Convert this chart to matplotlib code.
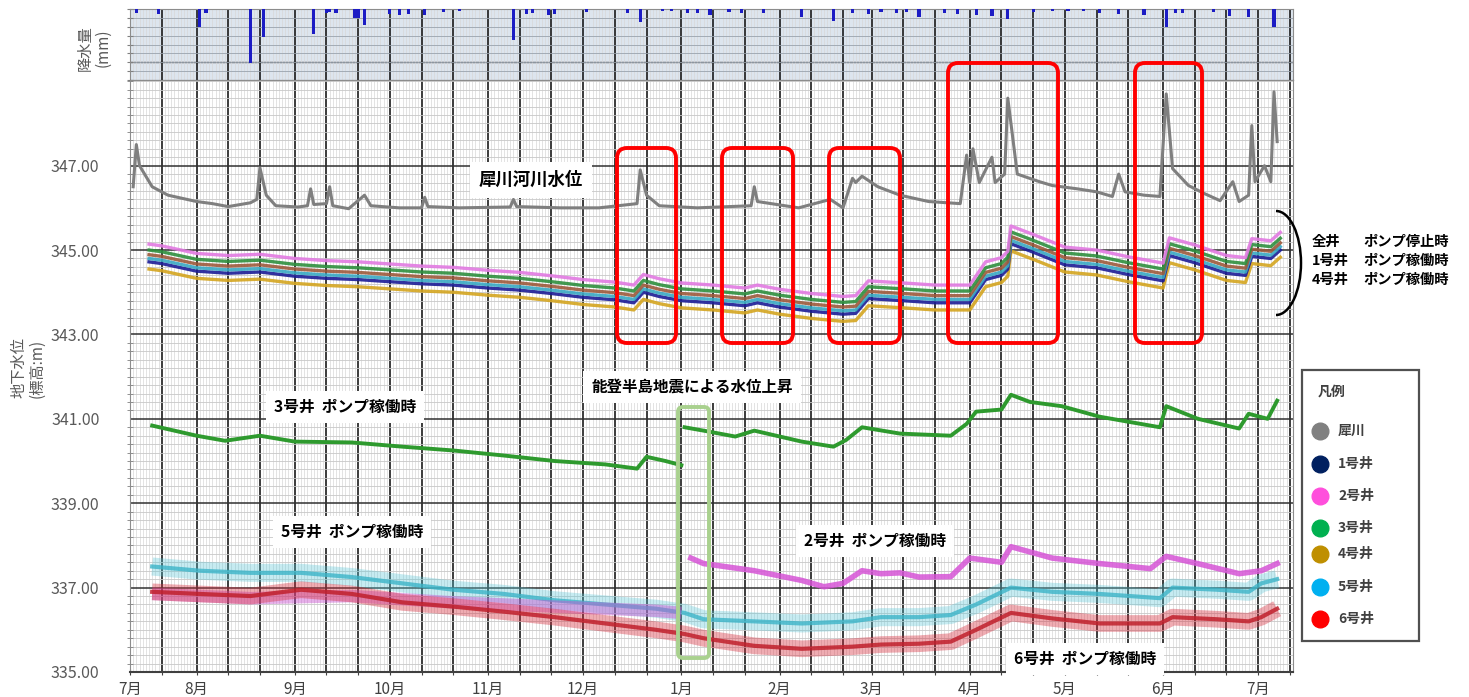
import numpy as np
import pandas as pd
import matplotlib
matplotlib.use('Agg')
import matplotlib.pyplot as plt
import matplotlib.dates as mdates
from matplotlib.ticker import FuncFormatter, MultipleLocator
from matplotlib.patches import FancyBboxPatch, Arc
from matplotlib.lines import Line2D
from matplotlib.transforms import IdentityTransform

plt.rcParams['font.family'] = ['Noto Sans CJK JP', 'DejaVu Sans']

W, H = 1469, 697

# ---- rainfall (mm/day) ----
rain_dates = ['2023-07-13', '2023-07-20', '2023-08-02', '2023-08-04', '2023-08-18', '2023-08-22',
              '2023-09-07', '2023-09-11', '2023-09-12', '2023-09-14', '2023-09-20', '2023-09-21',
              '2023-09-23', '2023-10-01', '2023-10-04', '2023-10-07', '2023-10-12', '2023-10-18',
              '2023-10-23', '2023-11-09', '2023-11-13', '2023-11-15', '2023-11-20', '2023-11-22',
              '2023-12-02', '2023-12-15', '2023-12-19', '2023-12-26', '2023-12-29', '2024-01-03',
              '2024-01-06', '2024-01-10', '2024-01-16', '2024-01-20', '2024-01-27', '2024-02-08',
              '2024-02-18', '2024-02-24', '2024-02-29', '2024-03-04', '2024-03-09', '2024-03-12',
              '2024-03-16', '2024-03-24', '2024-03-28', '2024-04-03', '2024-04-08', '2024-04-13',
              '2024-04-21', '2024-04-27', '2024-05-02', '2024-05-07', '2024-05-12', '2024-05-18',
              '2024-05-26', '2024-06-02', '2024-06-05', '2024-06-07', '2024-06-17', '2024-06-22',
              '2024-06-28', '2024-07-06']
rain_mm = [4.5, 6, 20, 4.5, 61, 31,
           28, 4.5, 3.4, 4.5, 10, 10,
           18, 6, 7, 6, 7, 3.4,
           2.2, 35, 6, 4.5, 7, 6,
           3.4, 4.5, 15, 2.2, 2.2, 4.5,
           4.5, 7, 3.4, 4.5, 4.5, 9,
           13, 4.5, 6, 3.4, 4.5, 3.4,
           9, 4.5, 6, 7, 8, 11,
           3.4, 2.2, 2.2, 2.2, 4.5, 6,
           7, 20, 4.5, 4.5, 3.4, 8,
           9, 20]

# ---- river level (犀川) ----
river_dates = ['2023-07-12', '2023-07-13', '2023-07-14', '2023-07-18', '2023-07-23', '2023-08-01',
               '2023-08-06', '2023-08-11', '2023-08-18', '2023-08-20', '2023-08-21', '2023-08-23',
               '2023-08-26', '2023-09-02', '2023-09-05', '2023-09-06', '2023-09-07', '2023-09-11',
               '2023-09-12', '2023-09-13', '2023-09-18', '2023-09-23', '2023-09-25', '2023-10-04',
               '2023-10-11', '2023-10-12', '2023-10-13', '2023-10-23', '2023-11-08', '2023-11-09',
               '2023-11-10', '2023-11-24', '2023-12-06', '2023-12-18', '2023-12-19', '2023-12-21',
               '2023-12-25', '2024-01-06', '2024-01-23', '2024-01-24', '2024-01-25', '2024-02-07',
               '2024-02-17', '2024-02-21', '2024-02-24', '2024-02-25', '2024-02-27', '2024-03-03',
               '2024-03-10', '2024-03-19', '2024-03-29', '2024-03-31', '2024-04-01', '2024-04-02',
               '2024-04-04', '2024-04-08', '2024-04-09', '2024-04-12', '2024-04-13', '2024-04-16',
               '2024-04-23', '2024-04-27', '2024-05-05', '2024-05-11', '2024-05-16', '2024-05-18',
               '2024-05-20', '2024-05-26', '2024-05-31', '2024-06-02', '2024-06-04', '2024-06-09',
               '2024-06-14', '2024-06-19', '2024-06-23', '2024-06-25', '2024-06-28', '2024-06-29',
               '2024-06-30', '2024-07-03', '2024-07-05', '2024-07-06', '2024-07-07']
river_level = [346.5, 347.5, 347.0, 346.5, 346.3, 346.15,
               346.1, 346.03, 346.12, 346.2, 346.95, 346.3,
               346.05, 346.02, 346.05, 346.45, 346.08, 346.1,
               346.5, 346.05, 345.98, 346.3, 346.05, 346.0,
               346.0, 346.25, 346.03, 346.0, 346.02, 346.2,
               346.03, 346.0, 346.0, 346.1, 346.9, 346.3,
               346.05, 346.0, 346.05, 346.5, 346.15, 346.0,
               346.2, 346.0, 346.7, 346.6, 346.75, 346.5,
               346.3, 346.15, 346.1, 347.25, 346.6, 347.4,
               346.6, 347.2, 346.6, 346.8, 348.6, 346.8,
               346.62, 346.53, 346.45, 346.38, 346.27, 346.8,
               346.38, 346.3, 346.27, 348.7, 346.93, 346.53,
               346.34, 346.17, 346.62, 346.15, 346.3, 347.95,
               346.62, 347.0, 346.62, 348.75, 347.57]

# ---- all wells while pumps are stopped (upper bundle) ----
bundle_dates = ['2023-07-17', '2023-07-21', '2023-08-01', '2023-08-11', '2023-08-21', '2023-09-01',
                '2023-09-11', '2023-09-21', '2023-10-01', '2023-10-11', '2023-10-21', '2023-11-01',
                '2023-11-11', '2023-11-21', '2023-12-01', '2023-12-11', '2023-12-17', '2023-12-20',
                '2023-12-25', '2024-01-01', '2024-01-11', '2024-01-21', '2024-01-25', '2024-02-01',
                '2024-02-11', '2024-02-21', '2024-02-25', '2024-02-29', '2024-03-11', '2024-03-21',
                '2024-04-01', '2024-04-06', '2024-04-11', '2024-04-13', '2024-04-14', '2024-04-21',
                '2024-05-01', '2024-05-11', '2024-05-21', '2024-06-01', '2024-06-03', '2024-06-11',
                '2024-06-21', '2024-06-27', '2024-06-29', '2024-07-05', '2024-07-08']
well2_stop = [345.14, 345.10, 344.92, 344.87, 344.90, 344.80, 344.75, 344.72, 344.67, 344.62, 344.59,
              344.52, 344.47, 344.39, 344.30, 344.24, 344.17, 344.42, 344.32, 344.22, 344.17, 344.10,
              344.17, 344.07, 343.97, 343.90, 343.92, 344.27, 344.22, 344.17, 344.17, 344.72, 344.82,
              344.97, 345.57, 345.37, 345.07, 345.00, 344.84, 344.69, 345.29, 345.12, 344.87, 344.82,
              345.27, 345.22, 345.42]
well3_stop = [345.00, 344.96, 344.78, 344.73, 344.76, 344.66, 344.61, 344.58, 344.53, 344.48, 344.45,
              344.38, 344.33, 344.25, 344.16, 344.10, 344.03, 344.28, 344.18, 344.08, 344.03, 343.96,
              344.03, 343.93, 343.83, 343.76, 343.78, 344.13, 344.08, 344.03, 344.03, 344.58, 344.68,
              344.83, 345.43, 345.23, 344.93, 344.86, 344.70, 344.55, 345.15, 344.98, 344.73, 344.68,
              345.13, 345.08, 345.28]
well6_stop = [344.89, 344.85, 344.67, 344.62, 344.65, 344.55, 344.50, 344.47, 344.42, 344.37, 344.34,
              344.27, 344.22, 344.14, 344.05, 343.99, 343.92, 344.17, 344.07, 343.97, 343.92, 343.85,
              343.92, 343.82, 343.72, 343.65, 343.67, 344.02, 343.97, 343.92, 343.92, 344.47, 344.57,
              344.72, 345.32, 345.12, 344.82, 344.75, 344.59, 344.44, 345.04, 344.87, 344.62, 344.57,
              345.02, 344.97, 345.17]
well5_stop = [344.80, 344.76, 344.58, 344.53, 344.56, 344.46, 344.41, 344.38, 344.33, 344.28, 344.25,
              344.18, 344.13, 344.05, 343.96, 343.90, 343.83, 344.08, 343.98, 343.88, 343.83, 343.76,
              343.83, 343.73, 343.63, 343.56, 343.58, 343.93, 343.88, 343.83, 343.83, 344.38, 344.48,
              344.63, 345.23, 345.03, 344.73, 344.66, 344.50, 344.35, 344.95, 344.78, 344.53, 344.48,
              344.93, 344.88, 345.08]
well1 = [344.72, 344.68, 344.50, 344.45, 344.48, 344.38, 344.33, 344.30, 344.25, 344.20, 344.17,
         344.10, 344.05, 343.97, 343.88, 343.82, 343.75, 344.00, 343.90, 343.80, 343.75, 343.68,
         343.75, 343.65, 343.55, 343.48, 343.50, 343.85, 343.80, 343.75, 343.75, 344.30, 344.40,
         344.55, 345.15, 344.95, 344.65, 344.58, 344.42, 344.27, 344.87, 344.70, 344.45, 344.40,
         344.85, 344.80, 345.00]
well4 = [344.55, 344.51, 344.33, 344.28, 344.31, 344.21, 344.16, 344.13, 344.08, 344.03, 344.00,
         343.93, 343.88, 343.80, 343.71, 343.65, 343.58, 343.83, 343.73, 343.63, 343.58, 343.51,
         343.58, 343.48, 343.38, 343.31, 343.33, 343.68, 343.63, 343.58, 343.58, 344.13, 344.23,
         344.38, 344.98, 344.78, 344.48, 344.41, 344.25, 344.10, 344.70, 344.53, 344.28, 344.23,
         344.68, 344.63, 344.83]

# ---- 3号井 pumping (jump after the Noto earthquake) ----
well3_pre_dates = ['2023-07-18', '2023-08-01', '2023-08-10', '2023-08-21', '2023-09-01', '2023-09-19',
                   '2023-10-05', '2023-10-21', '2023-11-06', '2023-11-22', '2023-12-08', '2023-12-18',
                   '2023-12-21', '2023-12-27', '2024-01-01']
well3_pre = [340.84, 340.60, 340.48, 340.60, 340.46, 340.44,
             340.34, 340.25, 340.13, 340.00, 339.92, 339.82,
             340.10, 340.00, 339.90]
well3_post_dates = ['2024-01-02', '2024-01-08', '2024-01-18', '2024-01-24', '2024-02-08', '2024-02-18',
                    '2024-02-22', '2024-02-27', '2024-03-10', '2024-03-26', '2024-03-31', '2024-04-03',
                    '2024-04-11', '2024-04-14', '2024-04-20', '2024-04-30', '2024-05-12', '2024-05-31',
                    '2024-06-02', '2024-06-12', '2024-06-25', '2024-06-28', '2024-07-04', '2024-07-07']
well3_post = [340.80, 340.72, 340.58, 340.72, 340.46, 340.34,
              340.50, 340.80, 340.65, 340.60, 340.88, 341.17,
              341.22, 341.57, 341.40, 341.30, 341.05, 340.80,
              341.30, 341.00, 340.77, 341.12, 341.00, 341.43]

# ---- 5号井 / 6号井 / 2号井 pumping ----
low_dates = ['2023-07-18', '2023-08-02', '2023-08-18', '2023-09-03', '2023-09-19', '2023-10-05',
             '2023-10-21', '2023-11-06', '2023-11-22', '2023-12-08', '2023-12-24', '2024-01-02',
             '2024-01-08', '2024-01-24', '2024-02-08', '2024-02-24', '2024-03-04', '2024-03-16',
             '2024-03-26', '2024-04-03', '2024-04-14', '2024-04-27', '2024-05-12', '2024-05-31',
             '2024-06-04', '2024-06-18', '2024-06-28', '2024-07-02', '2024-07-07']
well5 = [337.50, 337.40, 337.35, 337.35, 337.25, 337.10,
         336.95, 336.85, 336.70, 336.60, 336.50, 336.40,
         336.25, 336.20, 336.15, 336.20, 336.30, 336.30,
         336.35, 336.60, 337.00, 336.90, 336.85, 336.75,
         337.00, 336.95, 336.90, 337.10, 337.20]
well6 = [336.90, 336.85, 336.80, 336.95, 336.85, 336.65,
         336.55, 336.43, 336.30, 336.15, 336.00, 335.90,
         335.80, 335.62, 335.55, 335.60, 335.65, 335.67,
         335.72, 336.00, 336.40, 336.27, 336.15, 336.15,
         336.30, 336.25, 336.20, 336.30, 336.50]
well2_pre_dates = ['2023-07-18', '2023-08-18', '2023-09-19', '2023-10-21', '2023-11-22', '2023-12-24',
                   '2024-01-01']
well2_pre = [336.85, 336.75, 336.80, 336.65, 336.55, 336.45, 336.40]
well2_post_dates = ['2024-01-04', '2024-01-08', '2024-01-24', '2024-02-08', '2024-02-15', '2024-02-21',
                    '2024-02-27', '2024-03-04', '2024-03-10', '2024-03-16', '2024-03-26', '2024-04-01',
                    '2024-04-11', '2024-04-14', '2024-04-27', '2024-05-12', '2024-05-28', '2024-06-02',
                    '2024-06-13', '2024-06-25', '2024-07-02', '2024-07-07']
well2_post = [337.70, 337.57, 337.40, 337.17, 337.02, 337.10,
              337.40, 337.33, 337.35, 337.25, 337.26, 337.70,
              337.60, 337.97, 337.70, 337.57, 337.45, 337.74,
              337.55, 337.33, 337.40, 337.57]

y_ticks = [335, 337, 339, 341, 343, 345, 347]
legend_names = ['犀川', '1号井', '2号井', '3号井', '4号井', '5号井', '6号井']
legend_colors = ['#808080', '#002060', '#ff4fdc', '#00b050', '#bf8f00', '#00b0f0', '#ff0000']

d = pd.to_datetime
x0, x1 = d('2023-07-11'), d('2024-07-12')


def px(x, y):
    # figure pixel position (origin top-left) -> display coords
    return x, H - y


fig = plt.figure(figsize=(W / 100, H / 100), dpi=100)
ax_r = fig.add_axes([130 / W, 1 - 80 / H, 1163 / W, 71 / H])
ax = fig.add_axes([130 / W, 1 - 672 / H, 1163 / W, 592 / H])

for a in (ax_r, ax):
    a.set_xlim(x0, x1)
    a.xaxis.set_major_locator(mdates.DayLocator(bymonthday=[1, 11, 21]))
    a.xaxis.set_minor_locator(mdates.DayLocator())
    a.grid(which='minor', axis='x', color='#d8d8d8', lw=0.5, zorder=0)
    a.grid(which='major', axis='x', color='#1a1a1a', lw=1.2, zorder=0.5)
    for s in a.spines.values():
        s.set_color('#8c8c8c')

# rainfall panel (hanging bars)
ax_r.set_facecolor('#dde5ee')
ax_r.set_ylim(80, 0)
ax_r.yaxis.set_major_locator(MultipleLocator(10))
ax_r.grid(which='major', axis='y', color='#9aa3ad', lw=0.6, zorder=0)
ax_r.axhline(60, color='#505050', lw=1.0, zorder=0.5)
ax_r.bar(d(rain_dates), rain_mm, width=1.0, color='#1c1cc4', zorder=3)
ax_r.tick_params(axis='y', labelleft=False, length=4, direction='inout', color='#808080')
ax_r.tick_params(axis='x', which='both', labelbottom=False, length=0)
ax_r.spines['bottom'].set_color('#303030')

# main panel
ax.set_ylim(335, 349.03)
ax.set_yticks(y_ticks)
ax.yaxis.set_minor_locator(MultipleLocator(0.2))
ax.yaxis.set_major_formatter(FuncFormatter(lambda v, p: f'{v:.2f}'))
ax.grid(which='minor', axis='y', color='#c8c8c8', lw=0.6, zorder=0)
ax.grid(which='major', axis='y', color='#303030', lw=1.1, zorder=0.5)
ax.tick_params(axis='y', which='major', labelsize=11.5, labelcolor='#595959', pad=22, length=0)
ax.tick_params(axis='y', which='minor', length=4, direction='inout', color='#808080')
ax.spines['bottom'].set_color('#404040')
ax.spines['bottom'].set_linewidth(1.5)


def month_label(v, pos):
    t = mdates.num2date(v)
    if t.day == 1 or (t.month == 7 and t.day == 11 and t.year == 2023):
        return f'{t.month}月'
    return ''


ax.xaxis.set_major_formatter(FuncFormatter(month_label))
ax.tick_params(axis='x', which='major', labelsize=11, labelcolor='#404040', length=5,
               direction='inout', color='#404040', pad=4)
ax.tick_params(axis='x', which='minor', length=0)

# river
ax.plot(d(river_dates), river_level, color='#7f7f7f', lw=2.2, zorder=4)

# pumps stopped bundle
bd = d(bundle_dates)
for vals, c in [(well4, '#d4a520'), (well1, '#1c1c96'), (well5_stop, '#39a9c4'),
                (well6_stop, '#9c5a3c'), (well3_stop, '#2e8f3e'), (well2_stop, '#e27ae2')]:
    ax.plot(bd, vals, color=c, lw=2.4, alpha=0.9, zorder=4)

# 3号井 pumping
for dts, vals in [(well3_pre_dates, well3_pre), (well3_post_dates, well3_post)]:
    ax.plot(d(dts), vals, color='#2e9a2e', lw=2.8, zorder=4)

# lower group: noisy bands drawn as wide translucent strokes with a core line
ld = d(low_dates)
ax.plot(ld, well5, color='#5cc8d8', lw=13, alpha=0.35, solid_capstyle='butt', zorder=3)
ax.plot(ld, well5, color='#3cb4c8', lw=3, alpha=0.8, zorder=3)
ax.plot(d(well2_pre_dates), well2_pre, color='#c850d0', lw=9, alpha=0.45, solid_capstyle='butt', zorder=3)
ax.plot(ld, well6, color='#d83040', lw=12, alpha=0.4, solid_capstyle='butt', zorder=3)
ax.plot(ld, well6, color='#c0202c', lw=3, alpha=0.85, zorder=3)
ax.plot(d(well2_post_dates), well2_post, color='#d654d6', lw=4, alpha=0.85, zorder=4)

# text boxes
box_white = dict(boxstyle='square,pad=0.5', fc='white', ec='none')
tx = IdentityTransform()
labels = [('犀川河川水位', 531, 180, 12.5), ('3号井  ポンプ稼働時', 345, 407, 11.3),
          ('能登半島地震による水位上昇', 692, 387, 11.2), ('5号井  ポンプ稼働時', 352, 532, 11.3),
          ('2号井  ポンプ稼働時', 875, 541, 11.3), ('6号井  ポンプ稼働時', 1085, 659, 11.3)]
for s, x, y, fs in labels:
    fig.text(*px(x, y), s, transform=tx, ha='center', va='center', fontsize=fs,
             fontweight='bold', color='black', bbox=box_white, zorder=10)

# highlight boxes
for l, t, r, b in [(617, 148, 676, 343), (722, 148, 793, 343), (829, 148, 900, 343),
                   (948, 63, 1058, 343), (1135, 63, 1202, 343)]:
    fig.add_artist(FancyBboxPatch(px(l, b), r - l, b - t, transform=tx,
                                  boxstyle='round,pad=0,rounding_size=10',
                                  fc='none', ec='#ff0000', lw=2.8, zorder=8))
fig.add_artist(FancyBboxPatch(px(678, 658), 31, 251, transform=tx,
                              boxstyle='round,pad=0,rounding_size=5',
                              fc='none', ec='#a9d18e', lw=2.8, zorder=8))

# bracket and pump-stop note
fig.add_artist(Arc(px(1276, 263), 50, 104, theta1=-90, theta2=90, transform=tx,
                   color='black', lw=1.8, zorder=8))
for a, b, y in [('全井', 'ポンプ停止時', 242), ('1号井', 'ポンプ稼働時', 261), ('4号井', 'ポンプ稼働時', 280)]:
    fig.text(*px(1312, y), a, transform=tx, ha='left', va='center', fontsize=10.3, fontweight='bold')
    fig.text(*px(1363, y), b, transform=tx, ha='left', va='center', fontsize=10.3, fontweight='bold')

# legend
fig.add_artist(FancyBboxPatch(px(1302, 641), 117, 271, transform=tx, boxstyle='square,pad=0',
                              fc='white', ec='#505050', lw=1.6, zorder=8))
fig.text(*px(1318, 392), '凡例', transform=tx, ha='left', va='center', fontsize=10,
         fontweight='bold', color='#404040', zorder=9)
for name, c, y in zip(legend_names, legend_colors, [431, 464, 496, 528, 554, 587, 619]):
    fig.add_artist(Line2D([1320], [H - y], transform=tx, marker='o', ms=12, color=c,
                          mec=c, ls='none', zorder=9))
    fig.text(*px(1338, y), name, transform=tx, ha='left', va='center', fontsize=10,
             fontweight='bold', color='#404040', zorder=9)

# axis titles
fig.text(*px(28, 368), '地下水位\n(標高:m)', transform=tx, rotation=90, ha='center', va='center',
         fontsize=11, color='#595959', linespacing=1.1)
fig.text(*px(94, 48), '降水量\n(mm)', transform=tx, rotation=90, ha='center', va='center',
         fontsize=11, color='#595959', linespacing=1.1)

fig.savefig('out.png', dpi=100)
